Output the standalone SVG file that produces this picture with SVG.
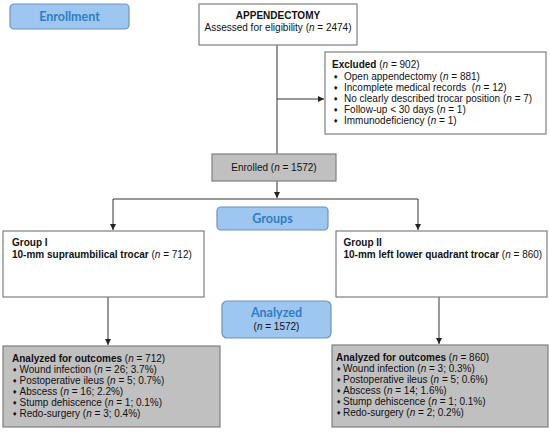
<svg xmlns="http://www.w3.org/2000/svg" width="550" height="432" viewBox="0 0 550 432">
<defs>
<marker id="ah" viewBox="0 0 6 6" refX="6" refY="3" markerWidth="6" markerHeight="6" markerUnits="userSpaceOnUse" orient="auto">
<path d="M0,0 L6,3 L0,6 z" fill="#222"/>
</marker>
<style>
.box{fill:#fff;stroke:#7f7f7f;stroke-width:1.2}
.gray{fill:#c0c0c0;stroke:#7f7f7f;stroke-width:1.2}
.blue{fill:#9dc6f0;stroke:#7391b8;stroke-width:1.2}
.t{font-family:"Liberation Sans",Arial,sans-serif;font-size:10px;fill:#111;white-space:pre}
.b{font-weight:bold}
.i{font-style:italic}
.h{font-family:Lato,"Liberation Sans",sans-serif;font-weight:bold;font-size:12.5px;fill:#2f7ec2}
.bul{font-family:"DejaVu Sans",sans-serif;font-size:6px;fill:#111}
.ln{fill:none;stroke:#333;stroke-width:1}
</style>
</defs>
<g id="connectors">
<path class="ln" d="M277,45 V154"/>
<path class="ln" d="M277,99 H324" marker-end="url(#ah)"/>
<path class="ln" d="M277,181 V198" marker-end="url(#ah)"/>
<path class="ln" d="M113,199 H418"/>
<path class="ln" d="M113,199 V230" marker-end="url(#ah)"/>
<path class="ln" d="M418,199 V230" marker-end="url(#ah)"/>
<path class="ln" d="M108,297 V345" marker-end="url(#ah)"/>
<path class="ln" d="M439,297 V344" marker-end="url(#ah)"/>
</g>
<g id="enrollment">
<rect class="blue" x="10" y="4" width="119" height="25" rx="4"/>
<text class="h" x="69.5" y="21" text-anchor="middle">Enrollment</text>
</g>
<g id="appendectomy">
<rect class="box" x="199" y="4" width="158" height="41"/>
<text class="t b" x="278" y="19" text-anchor="middle">APPENDECTOMY</text>
<text class="t" x="278" y="30.5" text-anchor="middle">Assessed for eligibility (<tspan class="i">n</tspan> = 2474)</text>
</g>
<g id="excluded">
<rect class="box" x="325" y="52" width="221" height="82"/>
<text class="t" x="332" y="68"><tspan class="b">Excluded</tspan> (<tspan class="i">n</tspan> = 902)</text>
<text class="bul" x="333" y="78.5">♦</text><text class="t" x="344" y="79.5">Open appendectomy (<tspan class="i">n</tspan> = 881)</text>
<text class="bul" x="333" y="89.7">♦</text><text class="t" x="344" y="90.7">Incomplete medical records  (<tspan class="i">n</tspan> = 12)</text>
<text class="bul" x="333" y="100.9">♦</text><text class="t" x="344" y="101.9">No clearly described trocar position (<tspan class="i">n</tspan> = 7)</text>
<text class="bul" x="333" y="112.1">♦</text><text class="t" x="344" y="113.1">Follow-up &lt; 30 days (<tspan class="i">n</tspan> = 1)</text>
<text class="bul" x="333" y="123.3">♦</text><text class="t" x="344" y="124.3">Immunodeficiency (<tspan class="i">n</tspan> = 1)</text>
</g>
<g id="enrolled">
<rect class="gray" x="212" y="154" width="124" height="27"/>
<text class="t" x="274" y="170.5" text-anchor="middle">Enrolled (<tspan class="i">n</tspan> = 1572)</text>
</g>
<g id="groups">
<rect class="blue" x="217" y="207" width="111" height="23" rx="4"/>
<text class="h" x="272.5" y="223" text-anchor="middle">Groups</text>
</g>
<g id="group1">
<rect class="box" x="3" y="231" width="201" height="66"/>
<text class="t b" x="12" y="246">Group I</text>
<text class="t" x="12" y="258"><tspan class="b">10-mm supraumbilical trocar</tspan> (<tspan class="i">n</tspan> = 712)</text>
</g>
<g id="group2">
<rect class="box" x="336" y="231" width="211" height="66"/>
<text class="t b" x="343.5" y="246">Group II</text>
<text class="t" x="343.5" y="258"><tspan class="b">10-mm left lower quadrant trocar</tspan> (<tspan class="i">n</tspan> = 860)</text>
</g>
<g id="analyzed">
<rect class="blue" x="222" y="301" width="109" height="37" rx="5"/>
<text class="h" x="276.5" y="317" text-anchor="middle">Analyzed</text>
<text class="t" x="276.5" y="330" text-anchor="middle">(<tspan class="i">n</tspan> = 1572)</text>
</g>
<g id="outcomes1">
<rect class="gray" x="3" y="346" width="217" height="81"/>
<text class="t" x="12" y="362"><tspan class="b">Analyzed for outcomes</tspan> (<tspan class="i">n</tspan> = 712)</text>
<text class="bul" x="12" y="372">♦</text><text class="t" x="19.5" y="373">Wound infection (<tspan class="i">n</tspan> = 26; 3.7%)</text>
<text class="bul" x="12" y="383">♦</text><text class="t" x="19.5" y="384">Postoperative ileus (<tspan class="i">n</tspan> = 5; 0.7%)</text>
<text class="bul" x="12" y="394">♦</text><text class="t" x="19.5" y="395">Abscess (<tspan class="i">n</tspan> = 16; 2.2%)</text>
<text class="bul" x="12" y="405">♦</text><text class="t" x="19.5" y="406">Stump dehiscence (<tspan class="i">n</tspan> = 1; 0.1%)</text>
<text class="bul" x="12" y="416">♦</text><text class="t" x="19.5" y="417">Redo-surgery (<tspan class="i">n</tspan> = 3; 0.4%)</text>
</g>
<g id="outcomes2">
<rect class="gray" x="332" y="345" width="216" height="82"/>
<text class="t" x="336" y="361"><tspan class="b">Analyzed for outcomes</tspan> (<tspan class="i">n</tspan> = 860)</text>
<text class="bul" x="336" y="371">♦</text><text class="t" x="343" y="372">Wound infection (<tspan class="i">n</tspan> = 3; 0.3%)</text>
<text class="bul" x="336" y="382">♦</text><text class="t" x="343" y="383">Postoperative ileus (<tspan class="i">n</tspan> = 5; 0.6%)</text>
<text class="bul" x="336" y="393">♦</text><text class="t" x="343" y="394">Abscess (<tspan class="i">n</tspan> = 14; 1.6%)</text>
<text class="bul" x="336" y="404">♦</text><text class="t" x="343" y="405">Stump dehiscence (<tspan class="i">n</tspan> = 1; 0.1%)</text>
<text class="bul" x="336" y="415">♦</text><text class="t" x="343" y="416">Redo-surgery (<tspan class="i">n</tspan> = 2; 0.2%)</text>
</g>
</svg>
